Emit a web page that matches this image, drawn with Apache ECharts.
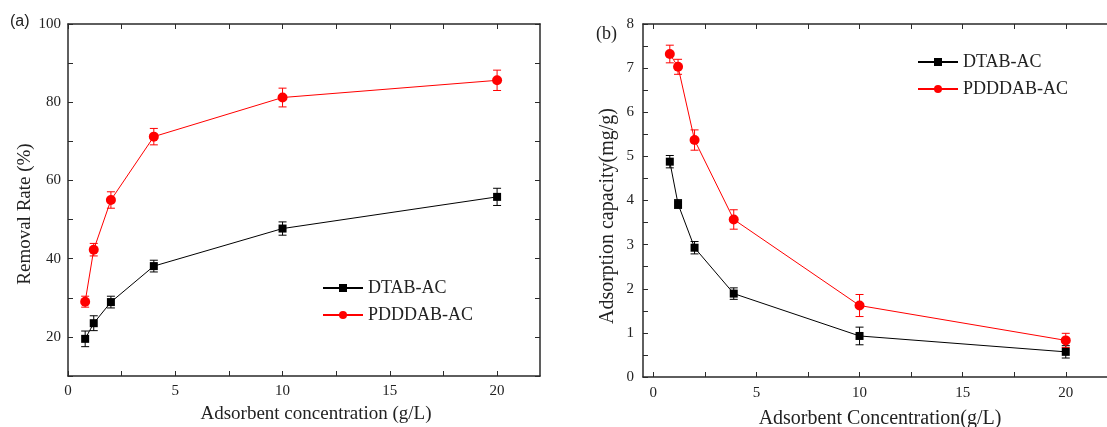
<!DOCTYPE html>
<html>
<head>
<meta charset="utf-8">
<script src="https://cdn.jsdelivr.net/npm/echarts@6/dist/echarts.min.js"></script>
<style>html,body{margin:0;padding:0;background:#fff;}#c{width:1107px;height:427px;}</style>
</head>
<body>
<div id="c"></div>
<script>
// ---- data ----
const xA = [0.8, 1.2, 2, 4, 10, 20];
const dtabRemoval = [19.5, 23.5, 28.9, 38.1, 47.7, 55.8];
const dtabRemovalErr = [2.0, 1.9, 1.5, 1.5, 1.7, 2.2];
const pddRemoval = [29.0, 42.3, 55.0, 71.2, 81.2, 85.6];
const pddRemovalErr = [1.4, 1.6, 2.1, 2.1, 2.4, 2.6];

const xB = [0.8, 1.2, 2, 3.9, 10, 20];
const dtabCapacity = [4.88, 3.92, 2.93, 1.89, 0.93, 0.57];
const dtabCapacityErr = [0.14, 0.10, 0.14, 0.13, 0.20, 0.14];
const pddCapacity = [7.32, 7.03, 5.37, 3.57, 1.62, 0.83];
const pddCapacityErr = [0.20, 0.17, 0.23, 0.22, 0.25, 0.16];

const xTicksA = [0, 2.5, 5, 7.5, 10, 12.5, 15, 17.5, 20];
const xLabelsA = [0, 5, 10, 15, 20];
const yTicksA = [10, 20, 30, 40, 50, 60, 70, 80, 90, 100];
const yLabelsA = [20, 40, 60, 80, 100];
const xTicksB = [0, 2.5, 5, 7.5, 10, 12.5, 15, 17.5, 20];
const xLabelsB = [0, 5, 10, 15, 20];
const yTicksB = [0, 0.5, 1, 1.5, 2, 2.5, 3, 3.5, 4, 4.5, 5, 5.5, 6, 6.5, 7, 7.5, 8];
const yLabelsB = [0, 1, 2, 3, 4, 5, 6, 7, 8];

const names = ['DTAB-AC', 'PDDDAB-AC'];
const SERIF = '"Liberation Serif", "DejaVu Serif", serif';
const AX = '#2a2a2a';

function pairs(xs, ys) { return xs.map((x, i) => [x, ys[i]]); }
function errData(xs, ys, es) { return xs.map((x, i) => [x, ys[i] - es[i], ys[i] + es[i]]); }

function axis(opts) {
  const base = {
    type: 'value',
    axisLine: { show: true, onZero: false, lineStyle: { color: AX, width: 1.5 } },
    axisTick: { show: true, inside: true, length: 5, lineStyle: { color: AX, width: 1 } },
    axisLabel: { show: true, color: '#222', fontFamily: SERIF, fontSize: 15 },
    splitLine: { show: false }
  };
  return Object.assign(base, opts);
}

function errSeries(name, xi, yi, data, color) {
  return {
    type: 'custom', name: name, xAxisIndex: xi, yAxisIndex: yi, z: 1,
    silent: true,
    data: data,
    renderItem: function (params, api) {
      const x = api.value(0);
      const lo = api.coord([x, api.value(1)]);
      const hi = api.coord([x, api.value(2)]);
      const w = 4;
      const st = { stroke: color, lineWidth: 1 };
      return {
        type: 'group',
        children: [
          { type: 'line', shape: { x1: lo[0], y1: lo[1], x2: hi[0], y2: hi[1] }, style: st },
          { type: 'line', shape: { x1: lo[0] - w, y1: lo[1], x2: lo[0] + w, y2: lo[1] }, style: st },
          { type: 'line', shape: { x1: hi[0] - w, y1: hi[1], x2: hi[0] + w, y2: hi[1] }, style: st }
        ]
      };
    }
  };
}

function lineSeries(name, xi, yi, data, color, symbol, size) {
  return {
    type: 'line', name: name, xAxisIndex: xi, yAxisIndex: yi, z: 3,
    data: data, symbol: symbol, symbolSize: size,
    lineStyle: { color: color, width: 1 },
    itemStyle: { color: color },
    emphasis: { disabled: true },
    animation: false
  };
}

const chart = echarts.init(document.getElementById('c'), null, { renderer: 'canvas' });

const option = {
  animation: false,
  backgroundColor: '#fff',
  grid: [
    { left: 68, top: 24, width: 472, height: 352 },
    { left: 643, top: 24, width: 465, height: 353 }
  ],
  xAxis: [
    axis({ gridIndex: 0, position: 'bottom', min: 0, max: 22,
      axisTick: { show: true, inside: true, length: 5, customValues: xTicksA, lineStyle: { color: AX } },
      axisLabel: { color: '#222', fontFamily: SERIF, fontSize: 15, margin: 8, customValues: xLabelsA } }),
    axis({ gridIndex: 0, position: 'top', min: 0, max: 22,
      axisTick: { show: true, inside: true, length: 5, customValues: xTicksA, lineStyle: { color: AX } },
      axisLabel: { show: false } }),
    axis({ gridIndex: 1, position: 'bottom', min: -0.5, max: 22,
      axisTick: { show: true, inside: true, length: 5, customValues: xTicksB, lineStyle: { color: AX } },
      axisLabel: { color: '#222', fontFamily: SERIF, fontSize: 15, margin: 9, customValues: xLabelsB } }),
    axis({ gridIndex: 1, position: 'top', min: -0.5, max: 22,
      axisTick: { show: true, inside: true, length: 5, customValues: xTicksB, lineStyle: { color: AX } },
      axisLabel: { show: false } })
  ],
  yAxis: [
    axis({ gridIndex: 0, position: 'left', min: 10, max: 100,
      axisTick: { show: true, inside: true, length: 5, customValues: yTicksA, lineStyle: { color: AX } },
      axisLabel: { color: '#222', fontFamily: SERIF, fontSize: 15, margin: 7, customValues: yLabelsA } }),
    axis({ gridIndex: 0, position: 'right', min: 10, max: 100,
      axisTick: { show: true, inside: true, length: 5, customValues: yTicksA, lineStyle: { color: AX } },
      axisLabel: { show: false } }),
    axis({ gridIndex: 1, position: 'left', min: 0, max: 8,
      axisTick: { show: true, inside: true, length: 5, customValues: yTicksB, lineStyle: { color: AX } },
      axisLabel: { color: '#222', fontFamily: SERIF, fontSize: 15, margin: 9, customValues: yLabelsB } })
  ],
  legend: [
    { data: names, orient: 'vertical', left: 322, top: 279, padding: 0, itemWidth: 40, itemHeight: 10, itemGap: 9,
      textStyle: { fontFamily: SERIF, fontSize: 18, color: '#222' }, selectedMode: false },
    { data: names, orient: 'vertical', left: 917, top: 53, padding: 0, itemWidth: 40, itemHeight: 10, itemGap: 9,
      textStyle: { fontFamily: SERIF, fontSize: 18, color: '#222' }, selectedMode: false }
  ],
  graphic: [
    { type: 'text', left: 10, top: 14, style: { text: '(a)', font: '16px "Liberation Sans", Arial, sans-serif', fill: '#222' } },
    { type: 'text', left: 596, top: 25, style: { text: '(b)', font: '18px "Liberation Serif", serif', fill: '#222' } },
    { type: 'text', x: 316, y: 414, style: { text: 'Adsorbent concentration (g/L)', font: '19px "Liberation Serif", serif', fill: '#222', align: 'center', verticalAlign: 'middle' } },
    { type: 'text', x: 25, y: 214, rotation: Math.PI / 2, style: { text: 'Removal Rate (%)', font: '19px "Liberation Serif", serif', fill: '#222', align: 'center', verticalAlign: 'middle' } },
    { type: 'text', x: 880, y: 419, style: { text: 'Adsorbent Concentration(g/L)', font: '20px "Liberation Serif", serif', fill: '#222', align: 'center', verticalAlign: 'middle' } },
    { type: 'text', x: 608, y: 216, rotation: Math.PI / 2, style: { text: 'Adsorption capacity(mg/g)', font: '20px "Liberation Serif", serif', fill: '#222', align: 'center', verticalAlign: 'middle' } }
  ],
  series: [
    lineSeries(names[0], 0, 0, pairs(xA, dtabRemoval), '#000000', 'rect', 8),
    errSeries('errA0', 0, 0, errData(xA, dtabRemoval, dtabRemovalErr), '#000000'),
    lineSeries(names[1], 0, 0, pairs(xA, pddRemoval), '#ff0000', 'circle', 10),
    errSeries('errA1', 0, 0, errData(xA, pddRemoval, pddRemovalErr), '#ff0000'),
    lineSeries(names[0], 2, 2, pairs(xB, dtabCapacity), '#000000', 'rect', 8),
    errSeries('errB0', 2, 2, errData(xB, dtabCapacity, dtabCapacityErr), '#000000'),
    lineSeries(names[1], 2, 2, pairs(xB, pddCapacity), '#ff0000', 'circle', 10),
    errSeries('errB1', 2, 2, errData(xB, pddCapacity, pddCapacityErr), '#ff0000')
  ]
};
chart.setOption(option);
</script>
</body>
</html>
